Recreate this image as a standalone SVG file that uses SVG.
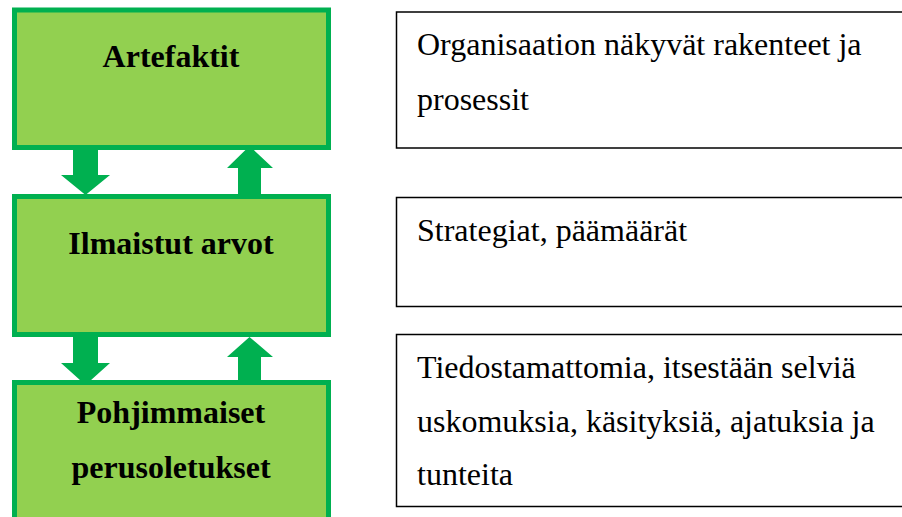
<svg xmlns="http://www.w3.org/2000/svg" width="902" height="517" viewBox="0 0 902 517">
<style>
.g{fill:#92d050;stroke:#00b050;stroke-width:5}
.w{fill:#fff;stroke:#000;stroke-width:1.5}
.h{font-family:"Liberation Serif","Times New Roman",serif;font-weight:bold;font-size:32px;fill:#000;text-anchor:middle}
.t{font-family:"Liberation Serif","Times New Roman",serif;font-size:32px;fill:#000}
.a{fill:#00b050}
</style>
<rect width="902" height="517" fill="#fff"/>
<g id="connectors">
<polygon class="a" points="73,148 98,148 98,175 110,175 85.5,195 61,175 73,175"/>
<polygon class="a" points="238,197 261,197 261,168 273,168 249.5,146 227,168 238,168"/>
<polygon class="a" points="73,335 98,335 98,363 110,363 85.5,385 61,363 73,363"/>
<polygon class="a" points="238,383 261,383 261,357 273,357 249.5,337 227,357 238,357"/>
</g>
<g id="artefaktit">
<rect class="g" x="14.5" y="10" width="314" height="137.5"/>
<text class="h" x="171" y="67">Artefaktit</text>
</g>
<g id="ilmaistut">
<rect class="g" x="14.5" y="196.5" width="314" height="138"/>
<text class="h" x="171" y="254">Ilmaistut arvot</text>
</g>
<g id="pohjimmaiset">
<rect class="g" x="14.5" y="382.5" width="314" height="150"/>
<text class="h" x="171" y="423">Pohjimmaiset</text>
<text class="h" x="171" y="478">perusoletukset</text>
</g>
<g id="desc1">
<rect class="w" x="396.5" y="12" width="520" height="136"/>
<text class="t" x="417" y="55">Organisaation näkyvät rakenteet ja</text>
<text class="t" x="417" y="110">prosessit</text>
</g>
<g id="desc2">
<rect class="w" x="396.5" y="197.5" width="520" height="109"/>
<text class="t" x="417" y="241">Strategiat, päämäärät</text>
</g>
<g id="desc3">
<rect class="w" x="396.5" y="334.5" width="520" height="172"/>
<text class="t" x="417" y="378">Tiedostamattomia, itsestään selviä</text>
<text class="t" x="417" y="432">uskomuksia, käsityksiä, ajatuksia ja</text>
<text class="t" x="417" y="485">tunteita</text>
</g>
</svg>
